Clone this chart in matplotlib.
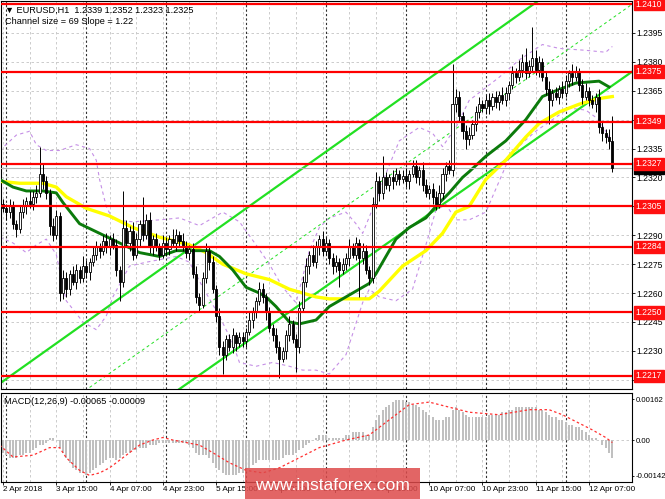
import numpy as np
import matplotlib
matplotlib.use("Agg")
from matplotlib import pyplot as plt
from matplotlib import transforms
from matplotlib.patches import Rectangle

plt.rcParams["font.family"] = ["Liberation Sans", "DejaVu Sans"]

# EURUSD H1, bars from 2 Apr 23:00 to 12 Apr 14:00
first_open = 1.2306
closes = [
    1.2304, 1.2302, 1.2305, 1.2296, 1.2293, 1.2302, 1.2305, 1.2308, 1.2306, 1.2310,
    1.2312, 1.2322, 1.2318, 1.2312, 1.2295, 1.2290, 1.2300, 1.2260, 1.2268, 1.2262,
    1.2270, 1.2266, 1.2272, 1.2268, 1.2274, 1.2271, 1.2276, 1.2280, 1.2284, 1.2282,
    1.2287, 1.2284, 1.2288, 1.2285, 1.2272, 1.2266, 1.2294, 1.2286, 1.2292, 1.2280,
    1.2288, 1.2296, 1.2290, 1.2298, 1.2284, 1.2288, 1.2284, 1.2280, 1.2286, 1.2283,
    1.2288, 1.2286, 1.2290, 1.2287, 1.2284, 1.2281, 1.2283, 1.2270, 1.2258, 1.2254,
    1.2268, 1.2282, 1.2276, 1.2262, 1.2248, 1.2232, 1.2228, 1.2236, 1.2232, 1.2238,
    1.2234, 1.2237, 1.2235, 1.2240, 1.2246, 1.2250, 1.2256, 1.2262, 1.2258, 1.2250,
    1.2242, 1.2238, 1.2232, 1.2226, 1.2230, 1.2238, 1.2244, 1.2236, 1.2232, 1.2252,
    1.2266, 1.2274, 1.2280, 1.2276, 1.2284, 1.2288, 1.2282, 1.2286, 1.2278, 1.2274,
    1.2276, 1.2272, 1.2275, 1.2278, 1.2284, 1.2280, 1.2286, 1.2278, 1.2282, 1.2272,
    1.2268, 1.2306, 1.2318, 1.2312, 1.2320, 1.2316, 1.2320, 1.2318, 1.2322, 1.2319,
    1.2321, 1.2318, 1.2322, 1.2326, 1.2320, 1.2324, 1.2316, 1.2312, 1.2314, 1.2310,
    1.2306, 1.2312, 1.2322, 1.2326, 1.2324, 1.2358, 1.2362, 1.2352, 1.2344, 1.2340,
    1.2342, 1.2348, 1.2354, 1.2358, 1.2356, 1.2360, 1.2357, 1.2362, 1.2359, 1.2363,
    1.2360, 1.2364, 1.2368, 1.2374, 1.2372, 1.2376, 1.2380, 1.2374, 1.2378, 1.2382,
    1.2376, 1.2380, 1.2372, 1.2366, 1.2360, 1.2364, 1.2362, 1.2366, 1.2364, 1.2370,
    1.2374, 1.2372, 1.2375, 1.2368, 1.2362, 1.2365, 1.2360, 1.2358, 1.2362, 1.2346,
    1.2343, 1.2341, 1.2339, 1.2325,
]
# wick lengths in pips
wick_up = [
    3, 2, 4, 3, 2, 3, 4, 2, 5, 3,
    4, 14, 5, 3, 2, 4, 3, 2, 4, 3,
    2, 4, 3, 2, 5, 3, 2, 4, 3, 2,
    3, 4, 2, 3, 3, 2, 19, 4, 3, 5,
    3, 2, 14, 3, 4, 2, 3, 2, 4, 3,
    2, 5, 3, 2, 4, 3, 2, 3, 4, 2,
    3, 4, 2, 3, 2, 4, 3, 2, 3, 4,
    2, 3, 3, 2, 4, 3, 2, 4, 3, 2,
    3, 2, 4, 3, 2, 3, 4, 2, 3, 4,
    3, 4, 2, 5, 3, 2, 4, 3, 2, 3,
    4, 2, 3, 3, 4, 2, 3, 2, 4, 3,
    2, 4, 5, 3, 11, 3, 2, 4, 3, 2,
    3, 4, 2, 3, 3, 2, 4, 3, 2, 3,
    3, 4, 3, 2, 3, 21, 4, 3, 2, 3,
    4, 2, 3, 4, 2, 3, 4, 2, 3, 2,
    4, 3, 2, 4, 3, 5, 4, 7, 3, 16,
    4, 3, 2, 3, 4, 2, 3, 2, 4, 3,
    2, 5, 3, 2, 3, 4, 2, 3, 2, 4,
    3, 2, 4, 13,
]
wick_dn = [
    2, 4, 3, 3, 4, 2, 3, 4, 2, 3,
    3, 2, 4, 3, 5, 3, 2, 4, 3, 4,
    3, 2, 4, 3, 2, 3, 4, 2, 3, 4,
    2, 3, 4, 2, 3, 10, 3, 2, 4, 3,
    2, 4, 3, 2, 3, 4, 2, 3, 2, 4,
    3, 2, 4, 3, 2, 3, 4, 2, 3, 4,
    2, 3, 4, 2, 3, 4, 10, 3, 2, 3,
    4, 2, 3, 3, 2, 4, 3, 2, 3, 4,
    2, 3, 3, 10, 2, 4, 3, 2, 13, 3,
    2, 3, 4, 2, 3, 4, 3, 2, 3, 4,
    3, 9, 2, 3, 4, 2, 3, 20, 3, 2,
    4, 3, 2, 4, 3, 2, 3, 4, 2, 3,
    2, 3, 4, 2, 3, 4, 3, 2, 3, 4,
    3, 2, 3, 4, 2, 3, 4, 3, 4, 5,
    3, 2, 4, 3, 2, 3, 4, 2, 3, 4,
    2, 3, 4, 2, 3, 2, 4, 3, 2, 3,
    3, 4, 2, 3, 12, 3, 2, 4, 3, 2,
    3, 4, 2, 3, 4, 2, 3, 2, 4, 3,
    4, 3, 4, 2,
]

# moving averages (bar index, price)
yellow_bars = [-1, 5, 12, 16, 19, 25, 32, 39, 47, 56, 61, 66, 73, 80, 86, 94, 98, 110,
               113, 120, 127, 132, 136, 140, 145, 151, 157, 161, 167, 173, 179, 183]
yellow_ma = [1.2318, 1.2317, 1.2317, 1.2315, 1.2310, 1.2304, 1.2300, 1.2294, 1.2289,
             1.2285, 1.2281, 1.2275, 1.2270, 1.2267, 1.2262, 1.2258, 1.2257, 1.2257,
             1.2261, 1.2274, 1.2282, 1.2291, 1.2302, 1.2305, 1.2319, 1.2329, 1.2341,
             1.2348, 1.2354, 1.2358, 1.2361, 1.2362]
green_bars = [-1, 3, 7, 12, 16, 18, 23, 29, 35, 41, 47, 52, 62, 65, 69, 73, 77, 79, 82,
              84, 86, 89, 94, 98, 105, 110, 112, 118, 122, 127, 130, 134, 138, 140, 145,
              151, 157, 162, 166, 172, 179, 182]
green_ma = [1.2319, 1.2315, 1.2313, 1.2313, 1.2312, 1.2307, 1.2296, 1.2291, 1.2286,
            1.2281, 1.2279, 1.2282, 1.2282, 1.2279, 1.2272, 1.2263, 1.2260, 1.2258,
            1.2253, 1.2249, 1.2245, 1.2244, 1.2246, 1.2253, 1.2260, 1.2265, 1.2270,
            1.2288, 1.2294, 1.2299, 1.2305, 1.2312, 1.2320, 1.2323, 1.2331, 1.2339,
            1.2350, 1.2362, 1.2365, 1.2369, 1.2370, 1.2367]

# Bollinger bands
upper_bars = [-1, 4, 8, 10, 13, 17, 22, 26, 28, 29, 31, 33, 39, 47, 53, 59, 66, 71, 76,
              80, 84, 88, 92, 95, 98, 103, 106, 108, 112, 115, 119, 125, 129, 132, 136,
              140, 149, 155, 162, 167, 175, 181, 183]
upper_band = [1.2334, 1.2342, 1.2344, 1.2337, 1.2334, 1.2334, 1.2337, 1.2335, 1.2329,
              1.2319, 1.2305, 1.2298, 1.2297, 1.2298, 1.2299, 1.2295, 1.2302, 1.2297,
              1.2285, 1.2275, 1.2263, 1.2255, 1.2282, 1.2294, 1.2299, 1.2302, 1.2296,
              1.2291, 1.2308, 1.2322, 1.2339, 1.2346, 1.2343, 1.2336, 1.2346, 1.2360,
              1.2372, 1.2381, 1.2389, 1.2387, 1.2386, 1.2385, 1.2388]
lower_bars = [-1, 3, 7, 10, 13, 16, 19, 24, 28, 31, 33, 38, 43, 52, 56, 60, 65, 69, 71,
              76, 81, 86, 90, 94, 98, 103, 108, 110, 113, 118, 123, 127, 130, 133, 136,
              140, 145, 149, 152, 156, 160, 165, 170, 175, 179, 183]
lower_band = [1.2289, 1.2286, 1.2281, 1.2285, 1.2288, 1.2280, 1.2256, 1.2245, 1.2241,
              1.2248, 1.2258, 1.2274, 1.2276, 1.2279, 1.2276, 1.2263, 1.2248, 1.2234,
              1.2224, 1.2222, 1.2224, 1.2222, 1.2220, 1.2220, 1.2218, 1.2228, 1.2255,
              1.2262, 1.2258, 1.2256, 1.2262, 1.2285, 1.2303, 1.2306, 1.2298, 1.2298,
              1.2302, 1.2318, 1.2330, 1.2338, 1.2344, 1.2350, 1.2356, 1.2355, 1.2350,
              1.2338]

# regression channel end points (bar, price)
chan_upper = ([-1, 161], [1.2213, 1.2412])
chan_lower = ([52, 189], [1.2209, 1.2375])
chan_mid = ([26, 189], [1.2211, 1.2410])

levels = [1.2410, 1.2375, 1.2349, 1.2327, 1.2305, 1.2284, 1.2250, 1.2217]
bid = 1.2325
price_ticks = [1.2215, 1.2230, 1.2245, 1.2260, 1.2275, 1.2290, 1.2305, 1.2320,
               1.2335, 1.2350, 1.2365, 1.2380, 1.2395]
hidden_ticks = [1.2305, 1.2350]   # sit under the red level labels

# MACD histogram, in units of 0.0001
macd_hist = [
    -5, -6, -7, -7, -7, -6, -6, -5, -5, -4,
    -3, -2, -2, -1, 1, 1, 0, -3, -5, -7,
    -9, -11, -12, -13, -13, -14, -13, -12, -11, -10,
    -9, -8, -7, -7, -8, -7, -6, -5, -5, -4,
    -4, -3, -3, -3, -2, -2, -2, -1, -1, -1,
    -1, -1, -1, -1, -1, -1, -2, -3, -5, -6,
    -6, -6, -7, -9, -11, -12, -13, -14, -14, -14,
    -14, -13, -13, -12, -11, -10, -9, -8, -8, -8,
    -8, -8, -8, -8, -7, -6, -6, -6, -5, -4,
    -3, -2, -1, 0, 1, 2, 2, 2, 1, 1,
    1, 1, 1, 2, 2, 3, 3, 3, 3, 2,
    2, 5, 8, 10, 12, 13, 14, 15, 16, 16,
    16, 15, 15, 14, 14, 13, 12, 11, 10, 9,
    8, 8, 8, 9, 9, 12, 13, 12, 11, 10,
    9, 9, 9, 9, 9, 9, 10, 10, 10, 10,
    11, 11, 12, 12, 13, 13, 13, 13, 13, 13,
    13, 12, 12, 11, 10, 9, 9, 8, 8, 7,
    6, 6, 5, 5, 4, 3, 2, 1, 1, 0,
    -2, -3, -5, -7,
]
signal_bars = [-1, 3, 9, 14, 17, 19, 23, 26, 29, 32, 36, 41, 45, 48, 51, 55, 59, 63, 68,
               73, 78, 83, 89, 95, 103, 110, 116, 122, 128, 134, 140, 149, 158, 164, 168,
               174, 177, 181, 183]
signal = [-2, -6.7, -6, -3, -3, -7, -12, -14, -13, -11, -7, -2, 0, 1, 0, -1, -2, -5, -9,
          -12, -13, -11, -7, -3, 0, 2, 8, 14, 15, 13, 11, 10, 12, 12, 10, 6, 4, 1, -1]
macd_ticks = [0.00162, 0.0, -0.00142]
macd_labels = ["0.00162", "0.00", "-0.00142"]

time_labels = ["2 Apr 2018", "3 Apr 15:00", "4 Apr 07:00", "4 Apr 23:00", "5 Apr 15:00",
               "6 Apr 07:00", "6 Apr 23:00", "9 Apr 15:00", "10 Apr 07:00",
               "10 Apr 23:00", "11 Apr 15:00", "12 Apr 07:00"]
day_starts = [1, 25, 49, 73, 97, 121, 145, 169]

pip = 0.0001
n = len(closes)
closes = np.array(closes)
opens = np.concatenate([[first_open], closes[:-1]])
highs = np.maximum(opens, closes) + np.array(wick_up) * pip
lows = np.minimum(opens, closes) - np.array(wick_dn) * pip
x = np.arange(n)

fig = plt.figure(figsize=(6.65, 4.99), dpi=100)
ax = fig.add_axes([0.0015, 1 - 389 / 499, 631 / 665, 388 / 499])
ax2 = fig.add_axes([0.0015, 1 - 482 / 499, 631 / 665, 89 / 499])

xlim = (-0.6, 188.9)
grid_kw = dict(color="#c4c4c4", lw=0.6, ls=(0, (3, 3)), zorder=0)
sep_kw = dict(color="#303030", lw=0.8, ls=(0, (2, 2)), zorder=1)

# ---- main chart ----
ax.set_xlim(*xlim)
ax.set_ylim(1.22102, 1.24116)
for p in price_ticks:
    ax.axhline(p, **grid_kw)
for b in range(0, n, 8):
    ax.axvline(b, **grid_kw)
for d in day_starts:
    ax.axvline(d, **sep_kw)

ax.plot(upper_bars, upper_band, color="#c58fe6", lw=0.8, ls=(0, (3, 3)), zorder=2)
ax.plot(lower_bars, lower_band, color="#c58fe6", lw=0.8, ls=(0, (3, 3)), zorder=2)

ax.plot(*chan_upper, color="#22e022", lw=1.6, zorder=2)
ax.plot(*chan_lower, color="#22e022", lw=1.6, zorder=2)
ax.plot(*chan_mid, color="#22e022", lw=0.7, ls=(0, (3, 3)), zorder=2)

ax.plot(yellow_bars, yellow_ma, color="#ffff00", lw=2.4, zorder=3)
ax.plot(green_bars, green_ma, color="#0b7a0b", lw=2.1, zorder=3)

ax.axhline(bid, color="#b4b4b4", lw=0.8, zorder=3)

up = closes >= opens
body = np.maximum(np.abs(closes - opens), 0.00003)
ax.vlines(x, lows, highs, color="black", lw=0.7, zorder=4)
ax.bar(x[up], body[up], bottom=opens[up], width=0.62, color="white",
       edgecolor="black", linewidth=0.6, zorder=5)
ax.bar(x[~up], body[~up], bottom=closes[~up], width=0.62, color="black",
       edgecolor="black", linewidth=0.6, zorder=5)

for lv in levels:
    ax.axhline(lv, color="#ff0000", lw=1.6, zorder=6)

ax.yaxis.tick_right()
ax.set_yticks(price_ticks)
ax.set_yticklabels(["" if p in hidden_ticks else "%.4f" % p for p in price_ticks],
                   fontsize=6.2)
ax.tick_params(axis="y", length=2, width=0.6, pad=1.5)
ax.tick_params(axis="x", bottom=False, labelbottom=False)

trans = transforms.blended_transform_factory(ax.transAxes, ax.transData)
ax.text(1.006, bid, "%.4f" % bid, transform=trans, ha="left", va="center",
        fontsize=6.2, color="white", zorder=7, clip_on=False,
        bbox=dict(boxstyle="square,pad=0.2", fc="black", ec="black"))
for lv in levels:
    ax.text(1.006, lv, "%.4f" % lv, transform=trans, ha="left", va="center",
            fontsize=6.2, color="white", zorder=8, clip_on=False,
            bbox=dict(boxstyle="square,pad=0.2", fc="#ff1010", ec="#ff1010"))

ax.text(0.006, 0.988, "\u25bc EURUSD,H1  1.2339 1.2352 1.2323 1.2325",
        transform=ax.transAxes, fontsize=6.6, va="top", ha="left", zorder=9)
ax.text(0.006, 0.958, "Channel size = 69 Slope = 1.22",
        transform=ax.transAxes, fontsize=6.6, va="top", ha="left", zorder=9)

# ---- MACD ----
ax2.set_xlim(*xlim)
ax2.set_ylim(-0.00166, 0.00186)
for b in range(0, n, 8):
    ax2.axvline(b, **grid_kw)
for d in day_starts:
    ax2.axvline(d, **sep_kw)
ax2.axhline(0, **grid_kw)
ax2.bar(x, np.array(macd_hist) * pip, width=0.6, color="#c0c0c0", zorder=2)
ax2.plot(signal_bars, np.array(signal) * pip, color="#ff3030", lw=0.9,
         ls=(0, (2, 2)), zorder=3)

ax2.yaxis.tick_right()
ax2.set_yticks(macd_ticks)
ax2.set_yticklabels(macd_labels, fontsize=5.6)
ax2.tick_params(axis="y", length=1.5, width=0.6, pad=1)
ax2.set_xticks(np.arange(0, n, 16))
ax2.set_xticklabels(time_labels, fontsize=5.9, ha="left")
ax2.tick_params(axis="x", length=2, width=0.6, pad=0.8)
ax2.text(0.004, 0.95, "MACD(12,26,9) -0.00065 -0.00009", transform=ax2.transAxes,
         fontsize=6.6, va="top", ha="left", zorder=9)

for a in (ax, ax2):
    for s in a.spines.values():
        s.set_linewidth(0.8)
        s.set_color("black")

# watermark
fig.patches.append(Rectangle((245 / 665, 0), 175 / 665, 31 / 499,
                             transform=fig.transFigure, fc="#dd4a4a", ec="none",
                             alpha=0.85, zorder=10))
fig.text(332 / 665, 14 / 499, "www.instaforex.com", color="white", fontsize=12.5,
         ha="center", va="center", zorder=11)

fig.savefig("out.png", dpi=100)
